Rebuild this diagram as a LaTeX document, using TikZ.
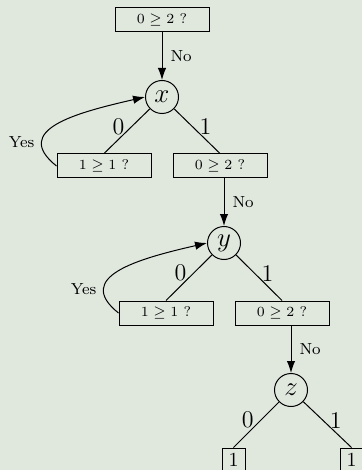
\RequirePackage{fix-cm}
\documentclass[tikz,border=0pt]{standalone}
\usepackage{amsmath, amssymb}
\usepackage{xcolor}
\usetikzlibrary{arrows.meta, positioning, calc}

\definecolor{paper}{RGB}{224,232,222}

\begin{document}
\begin{tikzpicture}[x=0.5pt, y=-0.5pt,
		test/.style={draw, line width=0.5pt, minimum width=47pt, minimum height=12pt, inner sep=0pt, font=\fontsize{7}{8}\selectfont},
		var/.style={draw, circle, line width=0.5pt, minimum size=16.5pt, inner sep=0pt, font=\fontsize{13.5}{15}\selectfont},
		leaf/.style={draw, line width=0.5pt, minimum size=11.5pt, inner sep=0pt, font=\fontsize{10}{12}\selectfont},
		bit/.style={font=\fontsize{12}{14}\selectfont},
		ans/.style={font=\fontsize{8}{10}\selectfont},
		arr/.style={line width=0.5pt, -{Latex[length=6pt,width=4.2pt]}}]
		% Frame
		\useasboundingbox (0,0) rectangle (362,470);
		\clip (0,0) rectangle (362,470);
		\fill[paper] (0,0) rectangle (362,470);
		
		% Tests and variables
		\node[test] (t0) at (162,20) {$0 \geq 2$ ?};
		\node[var] (x) at (162,97) {$x$};
		\node[test] (t1) at (104,166) {$1 \geq 1$ ?};
		\node[test] (t2) at (220,166) {$0 \geq 2$ ?};
		\node[var] (y) at (224,243) {$y$};
		\node[test] (t3) at (166,313) {$1 \geq 1$ ?};
		\node[test] (t4) at (282,313) {$0 \geq 2$ ?};
		\node[var] (z) at (291,390) {$z$};
		\node[leaf] (l0) at (233.5,459.5) {1};
		\node[leaf] (l1) at (351.5,459.5) {1};
		
		% Branches 0 and 1
		\draw[line width=0.5pt] (x) -- node[bit, pos=0.4, left] {0} (t1.north);
		\draw[line width=0.5pt] (x) -- node[bit, pos=0.4, right] {1} (t2.north);
		\draw[line width=0.5pt] (y) -- node[bit, pos=0.4, left] {0} (t3.north);
		\draw[line width=0.5pt] (y) -- node[bit, pos=0.4, right] {1} (t4.north);
		\draw[line width=0.5pt] (z) -- node[bit, pos=0.4, left] {0} (l0.north);
		\draw[line width=0.5pt] (z) -- node[bit, pos=0.4, right] {1} (l1.north);
		
		% No
		\draw[arr] (t0) -- node[ans, right, inner sep=4pt] {No} (x);
		\draw[arr] (t2.south -| y) -- node[ans, right, inner sep=4pt] {No} (y);
		\draw[arr] (t4.south -| z) -- node[ans, right, inner sep=4pt] {No} (z);
		
		% Yes
		\draw[arr] (t1.west) .. controls +(-45,-36) and +(-70,16) .. (x.west) node[ans, pos=0.25, left] {Yes};
		\draw[arr] (t3.west) .. controls +(-45,-36) and +(-70,16) .. (y.west) node[ans, pos=0.25, left] {Yes};
	\end{tikzpicture}
\end{document}
